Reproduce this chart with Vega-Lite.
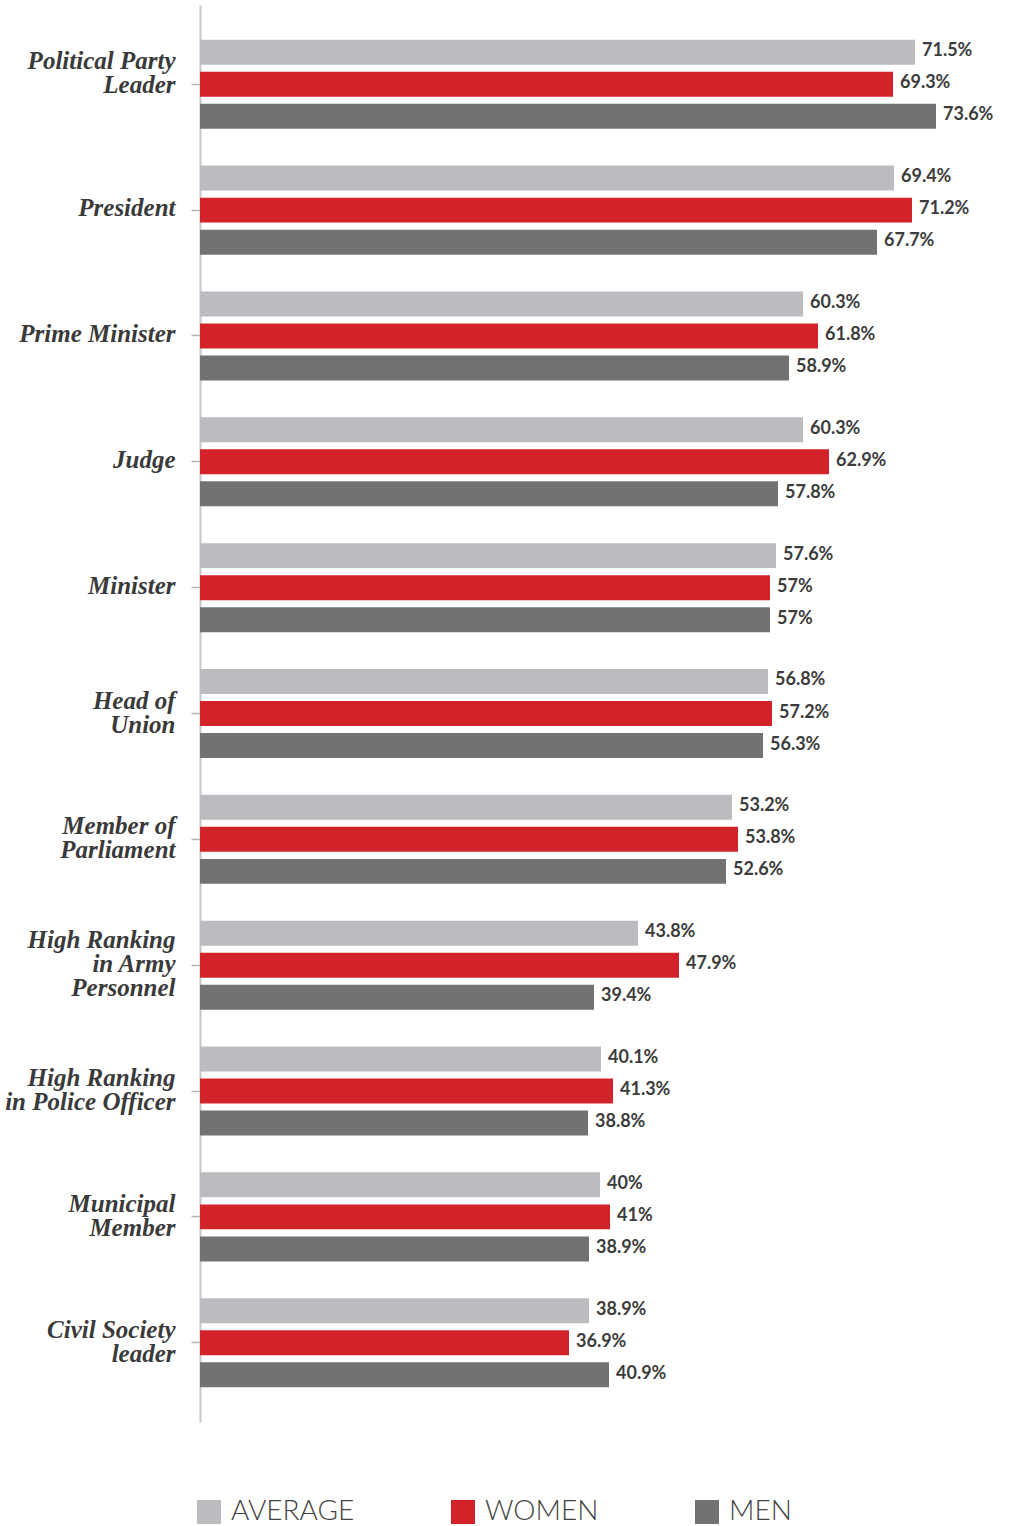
{
  "$schema": "https://vega.github.io/schema/vega-lite/v6.json",
  "autosize": "none",
  "width": 820,
  "height": 1417,
  "padding": {"left": 200, "top": 5, "right": 1, "bottom": 104},
  "background": "white",
  "config": {"view": {"stroke": null}},
  "data": {
    "values": [
      {"role": "Political Party Leader", "group": "Average", "value": 71.5},
      {"role": "Political Party Leader", "group": "Women", "value": 69.3},
      {"role": "Political Party Leader", "group": "Men", "value": 73.6},
      {"role": "President", "group": "Average", "value": 69.4},
      {"role": "President", "group": "Women", "value": 71.2},
      {"role": "President", "group": "Men", "value": 67.7},
      {"role": "Prime Minister", "group": "Average", "value": 60.3},
      {"role": "Prime Minister", "group": "Women", "value": 61.8},
      {"role": "Prime Minister", "group": "Men", "value": 58.9},
      {"role": "Judge", "group": "Average", "value": 60.3},
      {"role": "Judge", "group": "Women", "value": 62.9},
      {"role": "Judge", "group": "Men", "value": 57.8},
      {"role": "Minister", "group": "Average", "value": 57.6},
      {"role": "Minister", "group": "Women", "value": 57},
      {"role": "Minister", "group": "Men", "value": 57},
      {"role": "Head of Union", "group": "Average", "value": 56.8},
      {"role": "Head of Union", "group": "Women", "value": 57.2},
      {"role": "Head of Union", "group": "Men", "value": 56.3},
      {"role": "Member of Parliament", "group": "Average", "value": 53.2},
      {"role": "Member of Parliament", "group": "Women", "value": 53.8},
      {"role": "Member of Parliament", "group": "Men", "value": 52.6},
      {"role": "High Ranking in Army Personnel", "group": "Average", "value": 43.8},
      {"role": "High Ranking in Army Personnel", "group": "Women", "value": 47.9},
      {"role": "High Ranking in Army Personnel", "group": "Men", "value": 39.4},
      {"role": "High Ranking in Police Officer", "group": "Average", "value": 40.1},
      {"role": "High Ranking in Police Officer", "group": "Women", "value": 41.3},
      {"role": "High Ranking in Police Officer", "group": "Men", "value": 38.8},
      {"role": "Municipal Member", "group": "Average", "value": 40},
      {"role": "Municipal Member", "group": "Women", "value": 41},
      {"role": "Municipal Member", "group": "Men", "value": 38.9},
      {"role": "Civil Society leader", "group": "Average", "value": 38.9},
      {"role": "Civil Society leader", "group": "Women", "value": 36.9},
      {"role": "Civil Society leader", "group": "Men", "value": 40.9}
    ]
  },
  "encoding": {
    "y": {
      "field": "role",
      "type": "nominal",
      "sort": null,
      "scale": {"paddingInner": 0, "paddingOuter": 0.13},
      "axis": {
        "title": null,
        "domainColor": "#c8c8c8",
        "domainWidth": 2,
        "tickColor": "#b4b4b4",
        "tickSize": 9,
        "tickWidth": 1.5,
        "labelPadding": 16,
        "labelFont": "Liberation Serif",
        "labelFontStyle": "italic",
        "labelFontWeight": "bold",
        "labelFontSize": 25,
        "labelLineHeight": 24,
        "labelColor": "#3a3a3a",
        "labelLimit": 300,
        "labelOffset": {"expr": "datum.value == 'High Ranking in Army Personnel' ? -25 : datum.value == 'Political Party Leader' ? -23 : indexof(['Head of Union', 'Member of Parliament', 'High Ranking in Police Officer', 'Municipal Member', 'Civil Society leader'], datum.value) >= 0 ? -13 : -2"},
        "labelExpr": "datum.value == 'Political Party Leader' ? ['Political Party', 'Leader'] : datum.value == 'Head of Union' ? ['Head of', 'Union'] : datum.value == 'Member of Parliament' ? ['Member of', 'Parliament'] : datum.value == 'High Ranking in Army Personnel' ? ['High Ranking', 'in Army', 'Personnel'] : datum.value == 'High Ranking in Police Officer' ? ['High Ranking', 'in Police Officer'] : datum.value == 'Municipal Member' ? ['Municipal', 'Member'] : datum.value == 'Civil Society leader' ? ['Civil Society', 'leader'] : datum.value"
      }
    },
    "yOffset": {
      "field": "group",
      "type": "nominal",
      "scale": {"domain": ["Average", "Women", "Men"], "paddingInner": 0.22, "paddingOuter": 0.575}
    },
    "x": {
      "field": "value",
      "type": "quantitative",
      "scale": {"domain": [0, 82], "nice": false},
      "axis": null
    }
  },
  "layer": [
    {
      "mark": {"type": "bar", "opacity": 1},
      "encoding": {
        "color": {
          "field": "group",
          "type": "nominal",
          "scale": {"domain": ["Average", "Women", "Men"], "range": ["#bbbcc0", "#d2232a", "#717271"]},
          "legend": {
            "title": null,
            "orient": "none",
            "legendX": -5,
            "legendY": 1493,
            "direction": "horizontal",
            "columns": 3,
            "columnPadding": 94,
            "symbolType": "square",
            "symbolSize": 576,
            "symbolStrokeWidth": 0,
            "symbolOpacity": 1,
            "labelOffset": 8,
            "labelFont": "Lato",
            "labelFontWeight": 300,
            "labelFontSize": 28,
            "labelColor": "#444444",
            "labelExpr": "upper(datum.label)"
          }
        }
      }
    },
    {
      "mark": {"type": "text", "align": "left", "baseline": "middle", "dx": 7, "dy": -1, "font": "Lato", "fontWeight": "bold", "fontSize": 18, "color": "#3c3c3c", "text": {"expr": "datum.value + '%'"}},
      "encoding": {
        "detail": {"field": "group"}
      }
    }
  ]
}
